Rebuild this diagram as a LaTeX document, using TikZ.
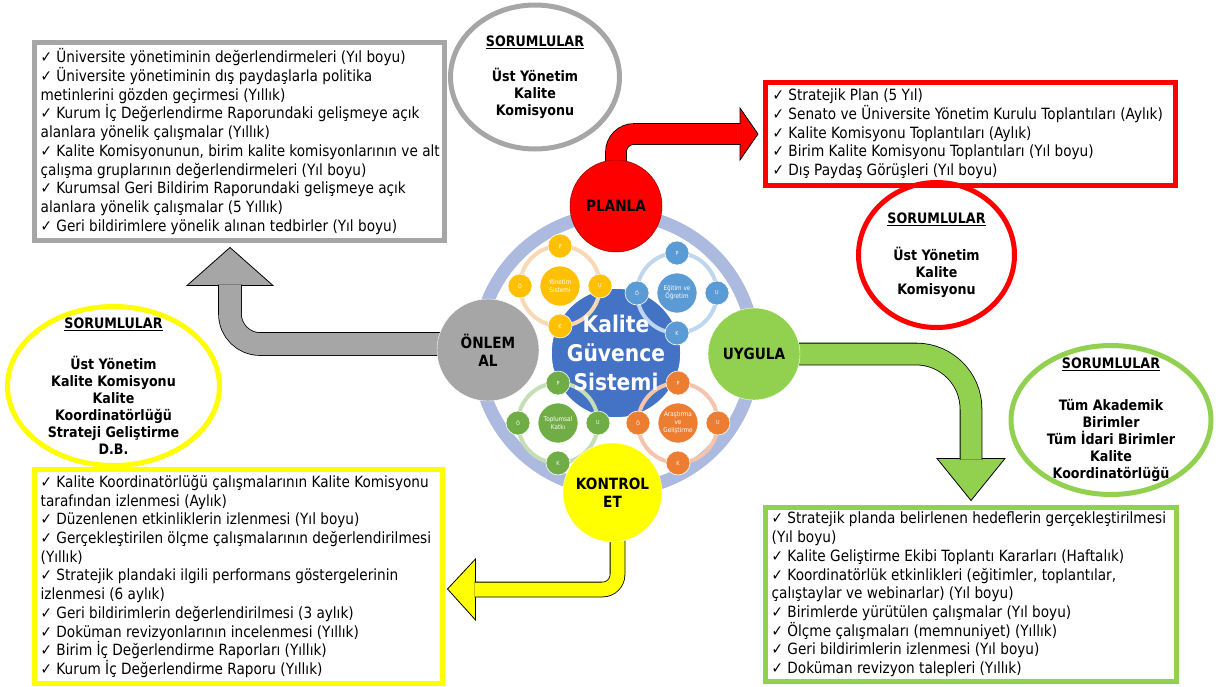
\documentclass[tikz,border=0pt]{standalone}
\usepackage{fontspec}
\setmainfont{DejaVu Sans}[FakeStretch=0.88]
\usepackage{tikz}
\usetikzlibrary{positioning}
\usetikzlibrary{calc}
\usetikzlibrary{shapes.geometric}
\usepackage{xcolor}

\definecolor{grybd}{HTML}{A6A6A6}
\definecolor{redbd}{HTML}{FF0000}
\definecolor{grnbd}{HTML}{92D050}
\definecolor{yelbd}{HTML}{FFFF00}
\definecolor{kgsblue}{HTML}{4472C4}
\definecolor{ringblue}{RGB}{172,186,224}
\definecolor{yonc}{HTML}{FFC000}
\definecolor{yonr}{RGB}{250,216,180}
\definecolor{egic}{HTML}{5B9BD5}
\definecolor{egir}{RGB}{190,214,238}
\definecolor{topc}{HTML}{70AD47}
\definecolor{topr}{RGB}{197,222,181}
\definecolor{arac}{HTML}{ED7D31}
\definecolor{arar}{RGB}{244,196,172}

\pgfdeclarelayer{bg}
\pgfsetlayers{bg,main}

\tikzset{
  listbox/.style={draw, line width=5pt, fill=white, inner sep=0pt},
  listtext/.style={anchor=west, align=left, inner sep=0pt, font=\fontsize{15.5}{18.7}\selectfont},
  sorbox/.style={ellipse, draw, line width=5pt, inner sep=0pt},
  sortext/.style={align=center, inner sep=0pt, font=\bfseries\fontsize{14.4}{17}\selectfont},
  phase/.style={circle, inner sep=0pt, align=center, font=\bfseries\fontsize{15.5}{18}\selectfont},
  shaft/.style={draw=black, line width=0.8pt, double distance=20pt},
  head/.style={draw=black, line width=0.8pt},
  minic/.style={circle, draw=white, line width=0.6pt, minimum size=24pt, inner sep=0pt, text=white, align=center, font=\fontsize{5.5}{6.5}\selectfont},
}

\begin{document}
\begin{tikzpicture}[x=1pt, y=-1pt]
  \useasboundingbox (0,0) rectangle (1216,686);

  % ring and core
  \draw[ringblue, line width=13pt] (616,352) circle[radius=138];
  \node[circle, fill=kgsblue, draw=white, line width=1.5pt, minimum size=130pt] (kgs) at (616,353) {};

  % small cycles
  \foreach \cx/\cy/\cc/\rc/\lbl/\nm in {560/286/yonc/yonr/{Yönetim\\Sistemi}/ys, 677/293/egic/egir/{Eğitim ve\\Öğretim}/eo, 558/423/topc/topr/{Toplumsal\\Katkı}/tk, 678/423/arac/arar/{Araştırma\\ve\\Geliştirme}/ag} {
    \draw[color=\rc, line width=4pt] (\cx,\cy) circle[radius=40];
    \node[minic, fill=\cc, minimum size=40pt, font=\fontsize{6.5}{8}\selectfont] (\nm) at (\cx,\cy) {\lbl};
    \node[minic, fill=\cc] (\nm-p) at (\cx,\cy-40) {P};
    \node[minic, fill=\cc] (\nm-u) at (\cx+40,\cy) {U};
    \node[minic, fill=\cc] (\nm-k) at (\cx,\cy+40) {K};
    \node[minic, fill=\cc] (\nm-o) at (\cx-40,\cy) {Ö};
  }
  \node[text=white, align=center, font=\bfseries\fontsize{23}{29}\selectfont] (kgstxt) at (kgs) {Kalite\\Güvence\\Sistemi};

  % phases
  \node[phase, fill=redbd, draw=red!60!black, line width=0.5pt, minimum size=92pt] (plan) at (616,206) {PLANLA};
  \node[phase, fill=grnbd, draw=white, minimum size=92pt] (uyg) at (754,354) {UYGULA};
  \node[phase, fill=yelbd, draw=white, minimum size=99pt] (kon) at (612.5,492.5) {KONTROL\\ET};
  \node[phase, fill=grybd, draw=white, minimum size=102pt] (onl) at (488,350) {ÖNLEM\\AL};

  % lists
  \node[listbox, draw=grybd, minimum width=410pt, minimum height=198pt] (grybox) at (239.5,141.5) {};
  \node[listtext] (grytxt) at ($(grybox.west)+(8.5,0)$) {✓ Üniversite yönetiminin değerlendirmeleri (Yıl boyu)\\
    ✓ Üniversite yönetiminin dış paydaşlarla politika\\
    metinlerini gözden geçirmesi (Yıllık)\\
    ✓ Kurum İç Değerlendirme Raporundaki gelişmeye açık\\
    alanlara yönelik çalışmalar (Yıllık)\\
    ✓ Kalite Komisyonunun, birim kalite komisyonlarının ve alt\\
    çalışma gruplarının değerlendirmeleri (Yıl boyu)\\
    ✓ Kurumsal Geri Bildirim Raporundaki gelişmeye açık\\
    alanlara yönelik çalışmalar (5 Yıllık)\\
    ✓ Geri bildirimlere yönelik alınan tedbirler (Yıl boyu)};

  \node[listbox, draw=redbd, minimum width=410pt, minimum height=103pt] (redbox) at (970.5,134) {};
  \node[listtext] (redtxt) at ($(redbox.west)+(9.5,0)$) {✓ Stratejik Plan (5 Yıl)\\
    ✓ Senato ve Üniversite Yönetim Kurulu Toplantıları (Aylık)\\
    ✓ Kalite Komisyonu Toplantıları (Aylık)\\
    ✓ Birim Kalite Komisyonu Toplantıları (Yıl boyu)\\
    ✓ Dış Paydaş Görüşleri (Yıl boyu)};

  \node[listbox, draw=grnbd, minimum width=411pt, minimum height=174pt] (grnbox) at (971,594.5) {};
  \node[listtext] (grntxt) at ($(grnbox.west)+(8.5,0)$) {✓ Stratejik planda belirlenen hedeflerin gerçekleştirilmesi\\
    (Yıl boyu)\\
    ✓ Kalite Geliştirme Ekibi Toplantı Kararları (Haftalık)\\
    ✓ Koordinatörlük etkinlikleri (eğitimler, toplantılar,\\
    çalıştaylar ve webinarlar) (Yıl boyu)\\
    ✓ Birimlerde yürütülen çalışmalar (Yıl boyu)\\
    ✓ Ölçme çalışmaları (memnuniyet) (Yıllık)\\
    ✓ Geri bildirimlerin izlenmesi (Yıl boyu)\\
    ✓ Doküman revizyon talepleri (Yıllık)};

  \node[listbox, draw=yelbd, minimum width=408pt, minimum height=214pt] (yelbox) at (238.5,576.5) {};
  \node[listtext] (yeltxt) at ($(yelbox.west)+(8.5,0)$) {✓ Kalite Koordinatörlüğü çalışmalarının Kalite Komisyonu\\
    tarafından izlenmesi (Aylık)\\
    ✓ Düzenlenen etkinliklerin izlenmesi (Yıl boyu)\\
    ✓ Gerçekleştirilen ölçme çalışmalarının değerlendirilmesi\\
    (Yıllık)\\
    ✓ Stratejik plandaki ilgili performans göstergelerinin\\
    izlenmesi (6 aylık)\\
    ✓ Geri bildirimlerin değerlendirilmesi (3 aylık)\\
    ✓ Doküman revizyonlarının incelenmesi (Yıllık)\\
    ✓ Birim İç Değerlendirme Raporları (Yıllık)\\
    ✓ Kurum İç Değerlendirme Raporu (Yıllık)};

  % responsibles
  \node[sorbox, draw=grybd, minimum width=169pt, minimum height=144pt] (grysor) at (535,77) {};
  \node[sortext] (grysortxt) at (grysor) {\underline{SORUMLULAR}\\[18pt]Üst Yönetim\\Kalite\\Komisyonu};
  \node[sorbox, draw=redbd, minimum width=156pt, minimum height=145pt] (redsor) at (936.5,255) {};
  \node[sortext] (redsortxt) at (redsor) {\underline{SORUMLULAR}\\[20pt]Üst Yönetim\\Kalite\\Komisyonu};
  \node[sorbox, draw=grnbd, minimum width=200pt, minimum height=149pt] (grnsor) at (1111,420) {};
  \node[sortext] (grnsortxt) at (grnsor) {\underline{SORUMLULAR}\\[25pt]Tüm Akademik\\Birimler\\Tüm İdari Birimler\\Kalite\\Koordinatörlüğü};
  \node[sorbox, draw=yelbd, minimum width=212pt, minimum height=159pt] (yelsor) at (113.5,386) {};
  \node[sortext] (yelsortxt) at (yelsor) {\underline{SORUMLULAR}\\[24pt]Üst Yönetim\\Kalite Komisyonu\\Kalite\\Koordinatörlüğü\\Strateji Geliştirme\\D.B.};

  % arrows
  \begin{pgfonlayer}{bg}
    \path[head, fill=redbd] ($(redbox.west)+(-23,-26)$) -- ($(redbox.west)+(-5,0)$) -- ($(redbox.west)+(-23,26)$) -- cycle;
    \draw[shaft, double=redbd, rounded corners=18pt] (plan.center) |- ($(redbox.west)+(-22,0)$);

    \path[head, fill=grnbd] ($(grnbox.north)+(-34,-46.5)$) -- ($(grnbox.north)+(0,-4.5)$) -- ($(grnbox.north)+(34,-46.5)$) -- cycle;
    \draw[shaft, double=grnbd, double distance=21pt, rounded corners=55pt] (uyg.center) -| ($(grnbox.north)+(0,-45.5)$);

    \path[head, fill=grybd] ($(grybox.south)+(-52.5,42.5)$) -- ($(grybox.south)+(-9.5,4.5)$) -- ($(grybox.south)+(33.5,42.5)$) -- cycle;
    \draw[shaft, double=grybd, double distance=22pt, rounded corners=30pt] ($(onl.center)+(0,-6)$) -| ($(grybox.south)+(-9.5,41.5)$);

    \path[head, fill=yelbd] ($(yelbox.east)+(30.5,-17.5)$) -- ($(yelbox.east)+(2.5,12.5)$) -- ($(yelbox.east)+(30.5,43.5)$) -- cycle;
    \draw[shaft, double=yelbd, double distance=14pt, rounded corners=15pt] ($(kon.center)+(5,0)$) |- ($(yelbox.east)+(29.5,13)$);
  \end{pgfonlayer}
\end{tikzpicture}
\end{document}
